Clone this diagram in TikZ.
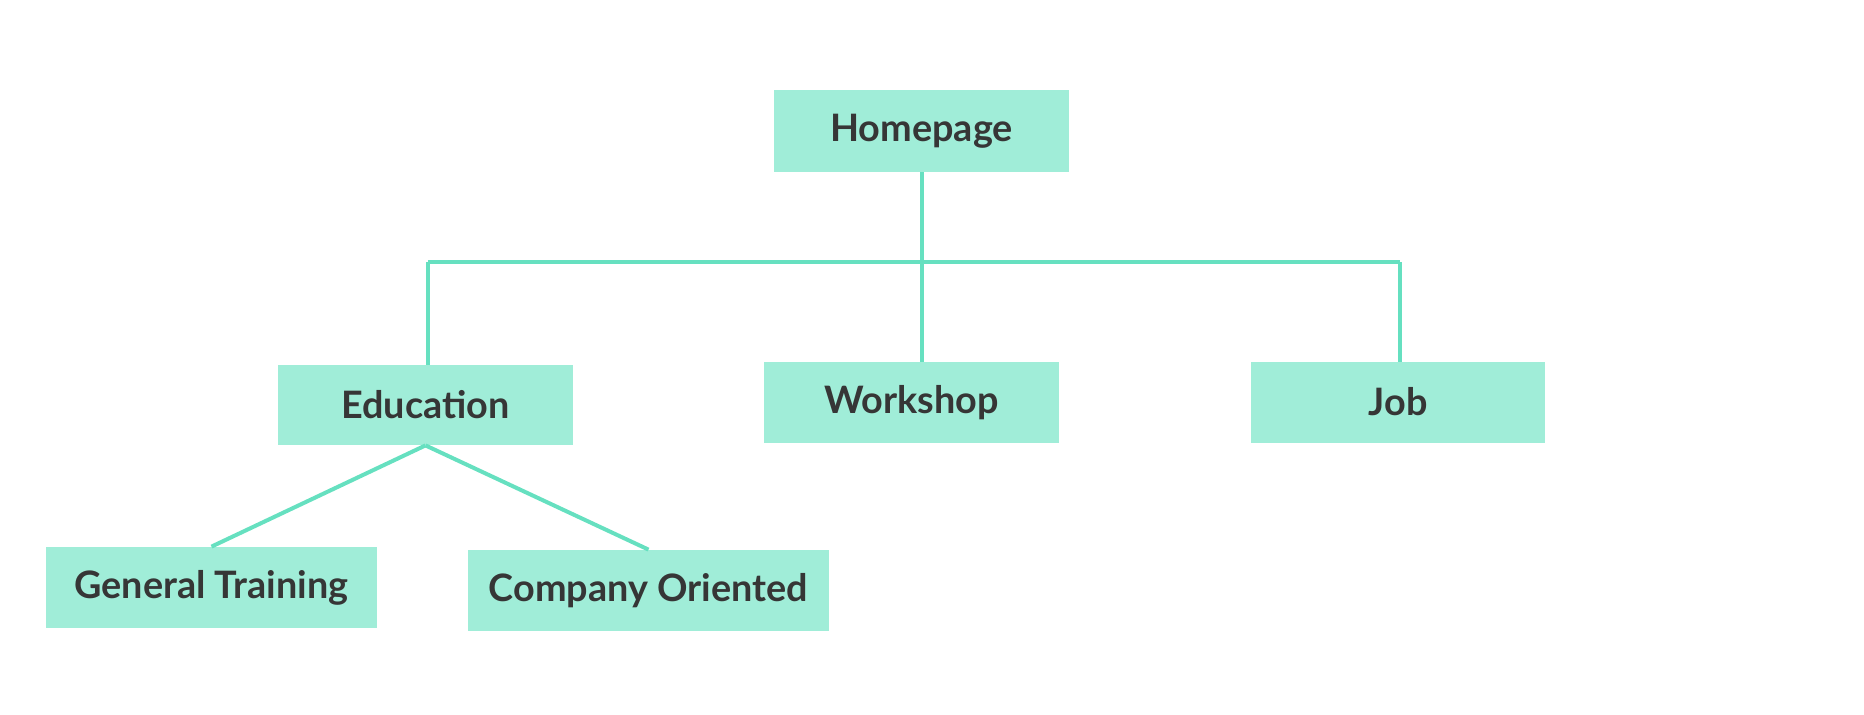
\documentclass[tikz,border=0pt]{standalone}
\usepackage{fontspec}
\setmainfont{Lato}
\definecolor{boxfill}{HTML}{A0EDD8}
\definecolor{linecol}{HTML}{66E0C0}
\definecolor{txt}{HTML}{363636}
\begin{document}
\begin{tikzpicture}[x=0.5pt,y=-0.5pt,
  box/.style={fill=boxfill,draw=none,inner sep=0pt,text=txt,
    font=\fontsize{18.9}{22}\selectfont\bfseries},
  conn/.style={draw=linecol,line width=2pt}]
\useasboundingbox (0,0) rectangle (1864,714);
\node[box,minimum width=147.5pt,minimum height=41pt] (home) at (921.5,131) {Homepage};
\node[box,minimum width=147.5pt,minimum height=40pt] (edu) at (425.5,405) {Education};
\node[box,minimum width=147.5pt,minimum height=40.5pt] (work) at (911.5,402.5) {Workshop};
\node[box,minimum width=147pt,minimum height=40.5pt] (job) at (1398,402.5) {\raisebox{1pt}{Job}};
\node[box,minimum width=165.5pt,minimum height=40.5pt] (gen) at (211.5,587.5) {General Training};
\node[box,minimum width=180.5pt,minimum height=40.5pt] (comp) at (648.5,590.5) {Company Oriented};
\coordinate (bl) at (428,262);
\coordinate (br) at (1400,262);
\draw[conn] (922,172) coordinate (hs) -- (hs |- work.north);
\draw[conn] (bl) -- (br);
\draw[conn] (bl) -- (bl |- edu.north);
\draw[conn] (br) -- (br |- job.north);
\draw[conn] (edu.south) -- (gen.north);
\draw[conn] (edu.south) -- (comp.north);
\end{tikzpicture}
\end{document}
